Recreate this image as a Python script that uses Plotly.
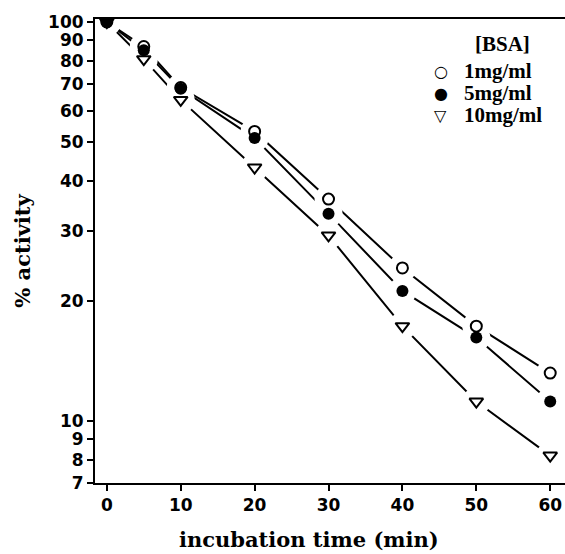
import plotly.graph_objects as go

# incubation time (min) and remaining activity (%) for three BSA concentrations
time_min = [0, 5, 10, 20, 30, 40, 50, 60]
act_1mg = [100, 86.8, 68.5, 53.2, 36.0, 24.2, 17.3, 13.2]
act_5mg = [100, 85.0, 68.0, 51.2, 33.1, 21.2, 16.2, 11.2]
act_10mg = [100, 80.7, 63.8, 43.2, 29.2, 17.3, 11.2, 8.2]

series_names = ["1mg/ml", "5mg/ml", "10mg/ml"]
legend_symbols = ["○", "●", "▽"]
y_ticks = [7, 8, 9, 10, 20, 30, 40, 50, 60, 70, 80, 90, 100]
x_ticks = [0, 10, 20, 30, 40, 50, 60]

series = [act_1mg, act_5mg, act_10mg]
markers = [
    dict(symbol="circle-open", size=11, color="black", line=dict(width=2, color="black")),
    dict(symbol="circle", size=12, color="black"),
    dict(symbol="triangle-down-open", size=12, color="black", line=dict(width=2, color="black")),
]

fig = go.Figure()

# connecting lines
for ys in series:
    fig.add_trace(go.Scatter(x=time_min, y=ys, mode="lines",
                             line=dict(color="black", width=2),
                             showlegend=False, hoverinfo="skip"))

# white halos so the lines stop short of each symbol
for ys in series:
    fig.add_trace(go.Scatter(x=time_min, y=ys, mode="markers",
                             marker=dict(symbol="circle", size=28, color="white",
                                         opacity=1, line=dict(width=0)),
                             showlegend=False, hoverinfo="skip"))

# symbols
for name, ys, mk in zip(series_names, series, markers):
    fig.add_trace(go.Scatter(x=time_min, y=ys, mode="markers", name=name,
                             marker=mk, showlegend=False))

tick_font = dict(family="DejaVu Sans, sans-serif", size=17, color="black")
title_font = dict(family="DejaVu Serif, serif", size=21, color="black")
legend_font = dict(family="Liberation Serif, Times New Roman, serif", size=21, color="black")

# legend block: title, then one row per concentration
legend_x_sym = 0.736
legend_x_txt = 0.78
legend_rows = [0.887, 0.840, 0.793]
annotations = [
    dict(text="<b>[BSA]</b>", x=0.867, y=0.946, xref="paper", yref="paper",
         xanchor="center", yanchor="middle", showarrow=False, font=legend_font),
    dict(text="<b>incubation time (min)</b>", x=0.455, y=-0.122, xref="paper", yref="paper",
         xanchor="center", yanchor="middle", showarrow=False, font=title_font),
]
for sym, name, yy in zip(legend_symbols, series_names, legend_rows):
    annotations.append(dict(text=sym, x=legend_x_sym, y=yy, xref="paper", yref="paper",
                            xanchor="center", yanchor="middle", showarrow=False,
                            font=dict(family="DejaVu Sans, sans-serif", size=16, color="black")))
    annotations.append(dict(text=f"<b>{name}</b>", x=legend_x_txt, y=yy, xref="paper", yref="paper",
                            xanchor="left", yanchor="middle", showarrow=False,
                            font=legend_font))

fig.update_layout(
    width=565, height=554,
    margin=dict(l=95, r=0, t=19, b=71),
    paper_bgcolor="white", plot_bgcolor="white",
    showlegend=False,
    annotations=annotations,
    xaxis=dict(
        range=[-1.6, 62], tickmode="array", tickvals=x_ticks,
        ticktext=[f"<b>{v}</b>" for v in x_ticks],
        ticks="outside", ticklen=6, tickwidth=2, tickcolor="black",
        showline=True, linecolor="black", linewidth=2, mirror=True,
        showgrid=False, zeroline=False, tickfont=tick_font,
    ),
    yaxis=dict(
        type="log", range=[0.8451, 2.0075], tickmode="array", tickvals=y_ticks,
        ticktext=[f"<b>{v}</b>" for v in y_ticks],
        ticks="outside", ticklen=6, tickwidth=2, tickcolor="black",
        showline=True, linecolor="black", linewidth=2,
        showgrid=False, zeroline=False, tickfont=tick_font,
        title=dict(text="<b>% activity</b>", font=title_font, standoff=12),
    ),
)

fig.write_html("out.html")
